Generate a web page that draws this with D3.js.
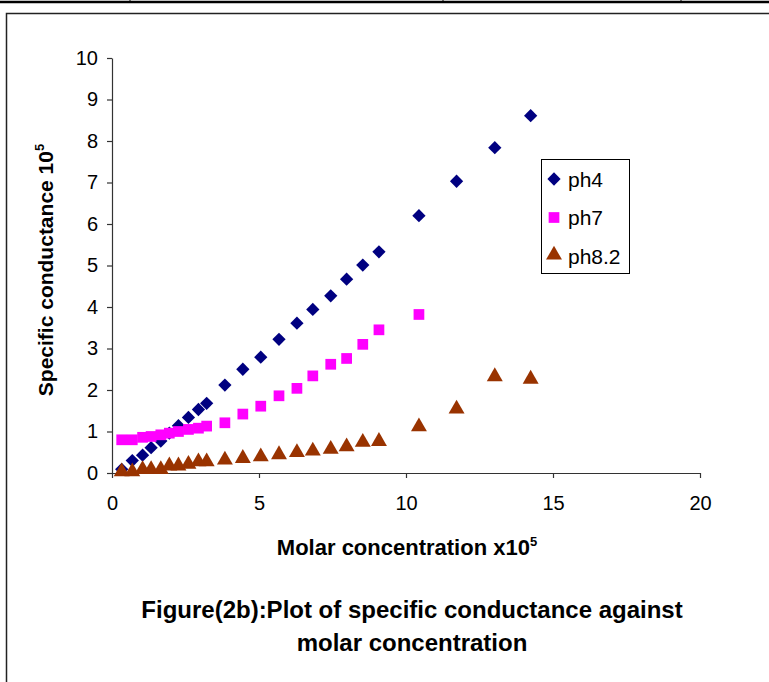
<!DOCTYPE html>
<html>
<head>
<meta charset="utf-8">
<script src="https://cdn.jsdelivr.net/npm/d3@7"></script>
<style>
    body { margin: 0; background: #fff; }
    svg { display: block; font-family: "Liberation Sans", Arial, sans-serif; }
</style>
</head>
<body>
<div id="chart"></div>
<script>
// Molar concentration x10^5 (same readings for every series)
const concentration = [0.33, 0.69, 1.04, 1.33, 1.66, 1.95, 2.26, 2.60, 2.94, 3.22,
    3.84, 4.45, 5.06, 5.68, 6.29, 6.83, 7.44, 7.98, 8.53, 9.08,
    10.44, 11.72, 13.02, 14.24];

// Specific conductance x10^5 for each pH
const ph4 = [0.09, 0.30, 0.43, 0.61, 0.77, 0.96, 1.14, 1.34, 1.53, 1.68,
    2.12, 2.50, 2.79, 3.22, 3.61, 3.94, 4.27, 4.67, 5.01, 5.33,
    6.20, 7.03, 7.84, 8.61];
const ph7 = [0.80, 0.80, 0.86, 0.88, 0.92, 0.96, 1.00, 1.05, 1.08, 1.13,
    1.21, 1.42, 1.61, 1.86, 2.04, 2.34, 2.62, 2.76, 3.10, 3.45,
    3.82];
const ph82 = [0.01, 0.01, 0.06, 0.06, 0.06, 0.15, 0.15, 0.19, 0.25, 0.25,
    0.29, 0.33, 0.37, 0.42, 0.47, 0.51, 0.55, 0.61, 0.72, 0.74,
    1.09, 1.52, 2.30, 2.24];

const seriesNames = ["ph4", "ph7", "ph8.2"];
const xTicks = [0, 5, 10, 15, 20];
const yTicks = [0, 1, 2, 3, 4, 5, 6, 7, 8, 9, 10];

// diamond = square turned 45 degrees, like the spreadsheet marker
const series = [
    { name: seriesNames[0], values: ph4, color: "#000080", symbol: d3.symbolSquare, size: 88, rot: 45, dy: 0 },
    { name: seriesNames[1], values: ph7, color: "#FF00FF", symbol: d3.symbolSquare, size: 115, rot: 0, dy: 0 },
    { name: seriesNames[2], values: ph82, color: "#993300", symbol: d3.symbolTriangle, size: 110, rot: 0, dy: -1 }
];

const width = 769, height = 682;
const plot = { left: 112, right: 700, top: 58, bottom: 473 };

const svg = d3.select("#chart").append("svg")
    .attr("width", width)
    .attr("height", height);

// page frame: table border on top and the figure box
svg.append("line").attr("x1", 0).attr("x2", width).attr("y1", 2).attr("y2", 2)
    .attr("stroke", "#000").attr("stroke-width", 2.5);
[130, 443, 681].forEach(x => {
    svg.append("line").attr("x1", x).attr("x2", x).attr("y1", 0).attr("y2", 2)
        .attr("stroke", "#000").attr("stroke-width", 1);
});
svg.append("path")
    .attr("d", `M6.5,${height + 5} V13.5 H${width + 5}`)
    .attr("fill", "none").attr("stroke", "#222").attr("stroke-width", 1.5);

const x = d3.scaleLinear().domain([0, 20]).range([plot.left, plot.right]);
const y = d3.scaleLinear().domain([0, 10]).range([plot.bottom, plot.top]);

// axes
const xAxis = svg.append("g")
    .attr("transform", `translate(0,${plot.bottom})`)
    .call(d3.axisBottom(x).tickValues(xTicks).tickSize(5).tickPadding(18).tickSizeOuter(0));
const yAxis = svg.append("g")
    .attr("transform", `translate(${plot.left},0)`)
    .call(d3.axisLeft(y).tickValues(yTicks).tickSize(5).tickPadding(9).tickSizeOuter(0));

[xAxis, yAxis].forEach(a => {
    a.select(".domain").attr("stroke", "#333").attr("stroke-width", 1.2);
    a.selectAll(".tick line").attr("stroke", "#333").attr("stroke-width", 1.2);
    a.selectAll(".tick text")
        .attr("font-family", "Liberation Sans, Arial, sans-serif")
        .attr("font-size", 20)
        .attr("fill", "#000");
});

// data points
series.forEach(s => {
    const pts = s.values.map((v, i) => [concentration[i], v]);
    svg.append("g").selectAll("path")
        .data(pts)
        .enter().append("path")
        .attr("d", d3.symbol().type(s.symbol).size(s.size))
        .attr("transform", d => `translate(${x(d[0])},${y(d[1]) + s.dy}) rotate(${s.rot})`)
        .attr("fill", s.color);
});

// legend
const legend = svg.append("g").attr("transform", "translate(541,159)");
legend.append("rect")
    .attr("x", 0.5).attr("y", 0.5).attr("width", 88).attr("height", 114)
    .attr("fill", "#fff").attr("stroke", "#000").attr("stroke-width", 1);
series.forEach((s, i) => {
    const cy = 20 + i * 38.5;
    legend.append("path")
        .attr("d", d3.symbol().type(s.symbol).size(s.size))
        .attr("transform", `translate(13,${cy + s.dy}) rotate(${s.rot})`)
        .attr("fill", s.color);
    legend.append("text")
        .attr("x", 27).attr("y", cy + 7.5)
        .attr("font-size", 21)
        .text(s.name);
});

// axis titles
const yTitle = svg.append("text")
    .attr("transform", "translate(53,270) rotate(-90)")
    .attr("text-anchor", "middle")
    .attr("font-size", 21)
    .attr("font-weight", "bold");
yTitle.append("tspan").text("Specific conductance 10");
yTitle.append("tspan").attr("font-size", 13).attr("dy", -9).text("5");

const xTitle = svg.append("text")
    .attr("x", 407).attr("y", 555)
    .attr("text-anchor", "middle")
    .attr("font-size", 22)
    .attr("font-weight", "bold");
xTitle.append("tspan").text("Molar concentration x10");
xTitle.append("tspan").attr("font-size", 13).attr("dy", -9).text("5");

// figure caption
const caption = ["Figure(2b):Plot of specific conductance against", "molar concentration"];
caption.forEach((line, i) => {
    svg.append("text")
        .attr("x", 412).attr("y", 618 + i * 33)
        .attr("text-anchor", "middle")
        .attr("font-size", 24)
        .attr("font-weight", "bold")
        .text(line);
});
</script>
</body>
</html>
